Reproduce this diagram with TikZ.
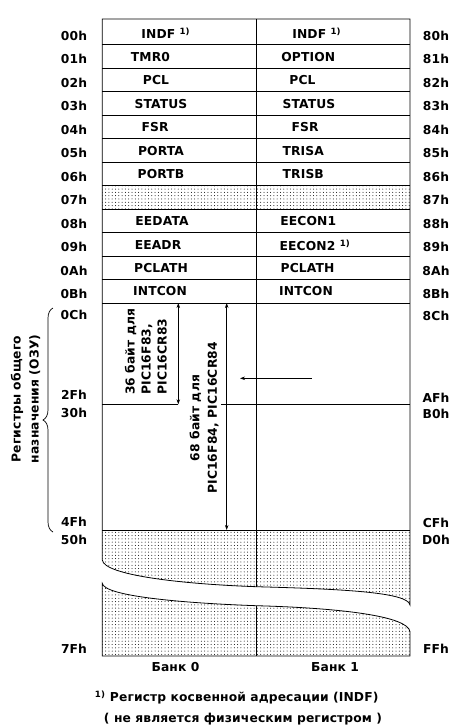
\documentclass[tikz,border=0pt]{standalone}
\usepackage{fontspec}
\setmainfont{DejaVu Sans}[LetterSpace=1]
\usetikzlibrary{patterns.meta,decorations.pathreplacing,arrows.meta}
\begin{document}
\begin{tikzpicture}[x=1pt,y=-1pt,
  txt/.style={font=\bfseries\fontsize{12.3}{14}\selectfont, inner sep=0pt},
  grid/.style={line width=0.8pt},
  thin/.style={line width=0.7pt},
  dotfill/.style={pattern={Dots[radius=0.5pt,distance=3.3pt]}},
  dim/.style={line width=0.7pt,{Stealth[length=5pt,width=3.5pt]}-{Stealth[length=5pt,width=3.5pt]}},
  ptr/.style={line width=0.7pt,-{Stealth[length=5pt,width=3.5pt]}}]
\useasboundingbox (0,0) rectangle (468,727);
\def\XL{102.3}\def\XM{256.3}\def\XR{410}
% dotted row 07h
\fill[dotfill] (\XL,185.5) rectangle (\XR,209);
% dotted bottom regions
\fill[dotfill] (\XL,530) -- (\XR,530) -- (\XR,605)
  .. controls (408,592) and (340,589) .. (\XM,586.7)
  .. controls (180,584) and (104,575) .. (\XL,560) -- cycle;
\fill[dotfill] (\XL,583.3) .. controls (104,596) and (180,603) .. (\XM,605.7)
  .. controls (340,608) and (408,616) .. (\XR,631.7) -- (\XR,656) -- (\XL,656) -- cycle;
% outline
\draw[grid] (\XL,560) -- (\XL,19) -- (\XR,19) -- (\XR,605)
  .. controls (408,592) and (340,589) .. (\XM,586.7)
  .. controls (180,584) and (104,575) .. (\XL,560);
\draw[grid] (\XL,583.3) .. controls (104,596) and (180,603) .. (\XM,605.7)
  .. controls (340,608) and (408,616) .. (\XR,631.7) -- (\XR,656) -- (\XL,656) -- cycle;
\draw[grid] (\XM,19) -- (\XM,586.7);
\draw[grid] (\XM,605.7) -- (\XM,656);
% row lines
\foreach \y in {44.5,68,91.5,115,138.5,162,185.5,209,232.5,256,279.5,303,530}
  \draw[grid] (\XL,\y) -- (\XR,\y);
% 2Fh/30h line
\coordinate (s36b) at (178.3,404.3);
\coordinate (s68l) at (221,404.3);
\draw[grid] (\XL,404.3) -- (s36b);
\draw[grid] (s68l) -- (\XR,404.3);
% left addresses
\foreach \t/\y in {00h/35.5,01h/59,02h/82.5,03h/106,04h/129.5,05h/153,06h/176.5,07h/200,08h/223.5,09h/247,0Ah/270.5,0Bh/294,0Ch/315,2Fh/395,30h/413,4Fh/522,50h/540,7Fh/649}
  \node[txt] at (74,\y) {\t};
% right addresses
\foreach \t/\y in {80h/35.5,81h/59,82h/82.5,83h/106,84h/129.5,85h/153,86h/176.5,87h/200,88h/223.5,89h/247,8Ah/270.5,8Bh/294,8Ch/316,AFh/397.5,B0h/414,CFh/522.5,D0h/540,FFh/649}
  \node[txt] at (436,\y) {\t};
% bank 0 cells
\node[txt] (b0r0) at (165.8,33.5) {INDF \textsuperscript{1)}};
\node[txt] (b0r1) at (150.5,57) {TMR0};
\node[txt] (b0r2) at (156,80.5) {PCL};
\node[txt] (b0r3) at (161,104) {STATUS};
\node[txt] (b0r4) at (155,127.5) {FSR};
\node[txt] (b0r5) at (161,151) {PORTA};
\node[txt] (b0r6) at (161,174.5) {PORTB};
\node[txt] (b0r8) at (162,221.5) {EEDATA};
\node[txt] (b0r9) at (158,245) {EEADR};
\node[txt] (b0rA) at (161,268.5) {PCLATH};
\node[txt] (b0rB) at (160,291) {INTCON};
% bank 1 cells
\node[txt] (b1r0) at (316.7,33.5) {INDF \textsuperscript{1)}};
\node[txt] (b1r1) at (308.3,57) {OPTION};
\node[txt] (b1r2) at (302.5,80.5) {PCL};
\node[txt] (b1r3) at (309,104) {STATUS};
\node[txt] (b1r4) at (305,127.5) {FSR};
\node[txt] (b1r5) at (303.3,151) {TRISA};
\node[txt] (b1r6) at (303.3,174.5) {TRISB};
\node[txt] (b1r8) at (308.3,221.5) {EECON1};
\node[txt] (b1r9) at (315,245) {EECON2 \textsuperscript{1)}};
\node[txt] (b1rA) at (307.5,268.5) {PCLATH};
\node[txt] (b1rB) at (306,291) {INTCON};
% dimension arrows
\coordinate (s36t) at (178.3,303);
\coordinate (s68t) at (226.7,303);
\coordinate (s68b) at (226.7,530);
\draw[dim] (s36t) -- (s36b);
\draw[dim] (s68t) -- (s68b);
\node[txt, rotate=90, anchor=west, align=left, font=\bfseries\fontsize{12.3}{16}\selectfont] (t36) at (145.8,395) {36 байт для\\PIC16F83,\\PIC16CR83};
\node[txt, rotate=90, align=center, font=\bfseries\fontsize{12.3}{17.5}\selectfont] (t68) at (204,418) {68 байт для\\PIC16F84, PIC16CR84};
% pointer arrow
\coordinate (pa) at (311.7,378.3);
\coordinate (pb) at (240,378.3);
\draw[ptr] (pa) -- (pb);
% brace
\draw[thin, decorate, decoration={brace, amplitude=10pt}] (53,532) -- (53,308);
\node[txt, rotate=90, align=center, font=\bfseries\fontsize{12.3}{18}\selectfont] (gpr) at (25.5,399) {Регистры общего\\назначения (ОЗУ)};
% banks
\node[txt] (bank0) at (175.5,666.7) {Банк 0};
\node[txt] (bank1) at (335,666.7) {Банк 1};
% footnote
\node[txt] (fn1) at (236.7,697.5) {\textsuperscript{1)} Регистр косвенной адресации (INDF)};
\node[txt] (fn2) at (243,719) {( не является физическим регистром )};
\end{tikzpicture}
\end{document}
